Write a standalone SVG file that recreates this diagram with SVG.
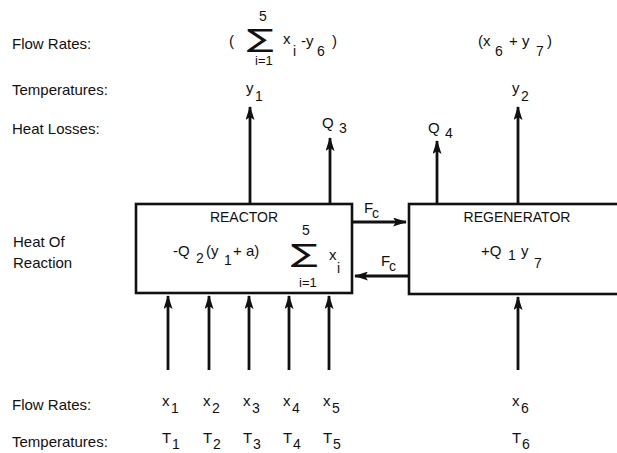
<svg xmlns="http://www.w3.org/2000/svg" width="617" height="453" viewBox="0 0 617 453">
<defs>
<style>
text{font-family:"Liberation Sans","DejaVu Sans",sans-serif;fill:#111;font-size:15px}
.s{font-size:14px}
.sig{font-family:"DejaVu Sans",sans-serif;font-size:25px}
.sm{font-size:13px}
.box{fill:#fff;stroke:#111;stroke-width:2.6}
.ln{stroke:#111;stroke-width:2.8;fill:none;marker-end:url(#ah)}
</style>
<marker id="ah" viewBox="0 0 14 9" refX="13" refY="4.5" markerWidth="14" markerHeight="9" markerUnits="userSpaceOnUse" orient="auto">
<path d="M0,0 L14,4.5 L0,9 L3,4.5 Z" fill="#111"/>
</marker>
</defs>
<rect width="617" height="453" fill="#fff"/>

<g id="row-labels">
<text x="12" y="49">Flow Rates:</text>
<text x="12" y="95">Temperatures:</text>
<text x="12" y="134">Heat Losses:</text>
<text x="13" y="247">Heat Of</text>
<text x="13" y="268">Reaction</text>
<text x="12" y="410">Flow Rates:</text>
<text x="12" y="447">Temperatures:</text>
</g>

<g id="connectors">
<line class="ln" x1="250" y1="204" x2="250" y2="107"/>
<line class="ln" x1="330" y1="204" x2="330" y2="138"/>
<line class="ln" x1="437" y1="204" x2="437" y2="141"/>
<line class="ln" x1="518" y1="204" x2="518" y2="107"/>
<line class="ln" x1="168" y1="370" x2="168" y2="296"/>
<line class="ln" x1="209" y1="370" x2="209" y2="296"/>
<line class="ln" x1="249" y1="370" x2="249" y2="296"/>
<line class="ln" x1="289" y1="370" x2="289" y2="296"/>
<line class="ln" x1="329" y1="370" x2="329" y2="296"/>
<line class="ln" x1="518" y1="370" x2="518" y2="297"/>
<line class="ln" x1="352" y1="222" x2="406" y2="222"/>
<line class="ln" x1="409" y1="276" x2="355" y2="276"/>
</g>

<g id="reactor">
<rect class="box" x="136" y="204" width="216" height="89"/>
<text class="s" x="244" y="222" text-anchor="middle">REACTOR</text>
<text x="173" y="256">-Q</text>
<text class="s" x="196" y="263">2</text>
<text x="206" y="256">(y</text>
<text class="s" x="224" y="265">1</text>
<text x="233" y="256">+ a)</text>
<text class="sig" transform="translate(291,262) scale(1.6,1)">∑</text>
<text class="s" x="302" y="235">5</text>
<text class="sm" x="299" y="287">i=1</text>
<text x="329" y="260">x</text>
<text class="s" x="337" y="273">i</text>
</g>

<g id="regenerator">
<rect class="box" x="409" y="204" width="220" height="90"/>
<text class="s" x="517" y="222" text-anchor="middle">REGENERATOR</text>
<text x="481" y="256">+Q</text>
<text class="s" x="508" y="260">1</text>
<text x="521" y="256">y</text>
<text class="s" x="534" y="268">7</text>
</g>

<g id="flow-labels">
<text x="364" y="213">F</text>
<text class="s" x="372" y="218">c</text>
<text x="381" y="266">F</text>
<text class="s" x="389" y="271">c</text>

<text x="229" y="46">(</text>
<text class="sig" transform="translate(247,47) scale(1.6,1)">∑</text>
<text class="s" x="259" y="21">5</text>
<text class="sm" x="255" y="65">i=1</text>
<text x="283" y="44">x</text>
<text class="s" x="293" y="56">i</text>
<text x="301" y="46">-y</text>
<text class="s" x="317" y="56">6</text>
<text x="332" y="46">)</text>

<text x="478" y="46">(x</text>
<text class="s" x="495" y="56">6</text>
<text x="509" y="46">+ y</text>
<text class="s" x="536" y="56">7</text>
<text x="547" y="46">)</text>

<text x="246" y="93">y</text>
<text class="s" x="255" y="101">1</text>
<text x="512" y="93">y</text>
<text class="s" x="521" y="101">2</text>
<text x="322" y="128">Q</text>
<text class="s" x="339" y="133">3</text>
<text x="428" y="133">Q</text>
<text class="s" x="445" y="138">4</text>

<text x="162" y="406">x</text>
<text class="s" x="171" y="413">1</text>
<text x="203" y="406">x</text>
<text class="s" x="212" y="413">2</text>
<text x="243" y="406">x</text>
<text class="s" x="252" y="413">3</text>
<text x="283" y="406">x</text>
<text class="s" x="292" y="413">4</text>
<text x="323" y="406">x</text>
<text class="s" x="332" y="413">5</text>
<text x="512" y="406">x</text>
<text class="s" x="521" y="413">6</text>

<text x="162" y="443">T</text>
<text class="s" x="172" y="449">1</text>
<text x="203" y="443">T</text>
<text class="s" x="213" y="449">2</text>
<text x="243" y="443">T</text>
<text class="s" x="253" y="449">3</text>
<text x="283" y="443">T</text>
<text class="s" x="293" y="449">4</text>
<text x="323" y="443">T</text>
<text class="s" x="333" y="449">5</text>
<text x="512" y="443">T</text>
<text class="s" x="522" y="449">6</text>
</g>
</svg>
